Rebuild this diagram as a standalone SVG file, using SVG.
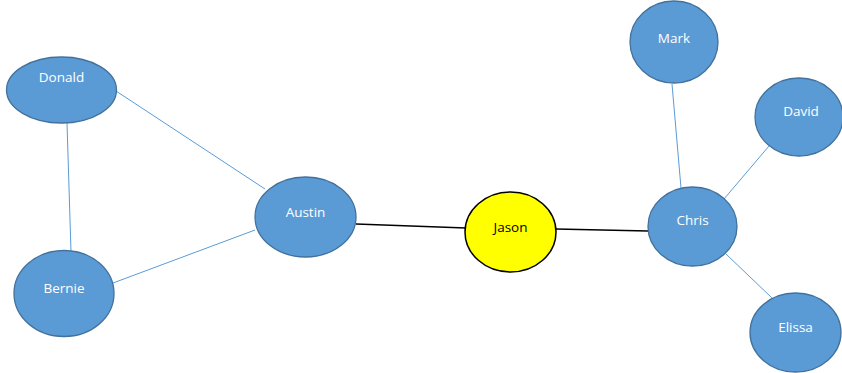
<svg xmlns="http://www.w3.org/2000/svg" width="842" height="373" viewBox="0 0 842 373">
  <style>
    .node { fill: #5B9BD5; stroke: #41719C; stroke-width: 1.3; }
    .hub { fill: #FFFF00; stroke: #000000; stroke-width: 1.5; }
    .label { font-family: "Open Sans", "Liberation Sans", sans-serif; font-size: 13.5px; fill: #FFFFFF; text-anchor: middle; }
    .hub-label { fill: #000000; }
    .link { stroke: #5B9BD5; stroke-width: 1; fill: none; }
    .bridge { stroke: #000000; stroke-width: 1.5; fill: none; }
  </style>
  <rect width="842" height="373" fill="#FFFFFF"/>

  <g id="connectors">
    <line class="link" x1="67" y1="123" x2="71" y2="252"/>
    <line class="link" x1="116" y1="91" x2="265" y2="189"/>
    <line class="link" x1="113" y1="283" x2="255" y2="230"/>
    <line class="bridge" x1="356" y1="224" x2="466" y2="228"/>
    <line class="bridge" x1="556" y1="229" x2="648" y2="231"/>
    <line class="link" x1="672" y1="84" x2="681" y2="188"/>
    <line class="link" x1="769" y1="146" x2="724" y2="199"/>
    <line class="link" x1="726" y1="254" x2="772" y2="298"/>
  </g>

  <g id="node-donald">
    <ellipse class="node" cx="61.5" cy="90" rx="55" ry="33"/>
    <text class="label" x="61.5" y="82">Donald</text>
  </g>
  <g id="node-bernie">
    <ellipse class="node" cx="64" cy="293.5" rx="50" ry="43"/>
    <text class="label" x="64" y="293">Bernie</text>
  </g>
  <g id="node-austin">
    <ellipse class="node" cx="305.5" cy="217" rx="50.5" ry="40"/>
    <text class="label" x="305.5" y="217">Austin</text>
  </g>
  <g id="node-jason">
    <ellipse class="hub" cx="510.5" cy="232" rx="45.5" ry="40"/>
    <text class="label hub-label" x="510.5" y="231.5">Jason</text>
  </g>
  <g id="node-chris">
    <ellipse class="node" cx="692.5" cy="226.5" rx="44.5" ry="39.5"/>
    <text class="label" x="692.5" y="225">Chris</text>
  </g>
  <g id="node-mark">
    <ellipse class="node" cx="674" cy="42" rx="44" ry="41"/>
    <text class="label" x="674" y="43">Mark</text>
  </g>
  <g id="node-david">
    <ellipse class="node" cx="799" cy="117" rx="44" ry="39"/>
    <text class="label" x="801" y="115.5">David</text>
  </g>
  <g id="node-elissa">
    <ellipse class="node" cx="795.5" cy="332.5" rx="45.5" ry="39.5"/>
    <text class="label" x="795.5" y="331.5">Elissa</text>
  </g>
</svg>
